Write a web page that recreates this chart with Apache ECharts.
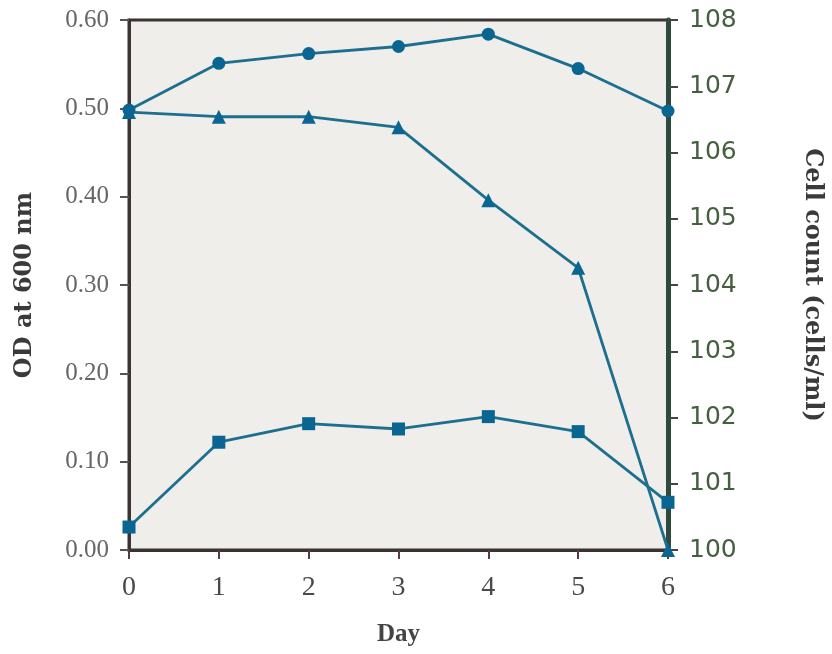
<!DOCTYPE html>
<html>
<head>
<meta charset="utf-8">
<script src="https://cdn.jsdelivr.net/npm/echarts@6/dist/echarts.min.js"></script>
<style>
  html, body { margin:0; padding:0; background:#fff; }
  #main { width:832px; height:654px; }
</style>
</head>
<body>
<div id="main"></div>
<script>
  // 数据
  var days = [0, 1, 2, 3, 4, 5, 6];
  var odCircle = [0.498, 0.551, 0.562, 0.570, 0.584, 0.545, 0.497];
  var odSquare = [0.026, 0.122, 0.143, 0.137, 0.151, 0.134, 0.054];
  var cellLog = [6.61, 6.54, 6.54, 6.38, 5.28, 4.26, 0.0];   // log10 cells/ml
  var leftTicks = ['0.00', '0.10', '0.20', '0.30', '0.40', '0.50', '0.60'];

  function pairs(vals) {
    return days.map(function (d, i) { return [d, vals[i]]; });
  }

  var lineColor = '#1c6f8f';
  var markColor = '#0b6591';
  var serif = '"Liberation Serif", "DejaVu Serif", serif';
  var titleFont = '"DejaVu Serif", serif';

  var chart = echarts.init(document.getElementById('main'));
  var option = {
    animation: false,
    grid: {
      left: 129, right: 164, top: 20, bottom: 104,
      containLabel: false,
      outerBoundsMode: 'none',
      show: true,
      backgroundColor: '#efeeea',
      borderColor: '#3b3333',
      borderWidth: 3
    },
    xAxis: {
      type: 'value',
      min: 0, max: 6, interval: 1,
      name: 'Day',
      nameLocation: 'middle',
      nameGap: 72,
      nameTextStyle: { fontFamily: serif, fontWeight: 'bold', fontSize: 25, color: '#444' },
      axisLine: { show: true, lineStyle: { color: '#3b3333', width: 3 } },
      axisTick: { show: true, length: 9, lineStyle: { color: '#5a3b45', width: 2 } },
      axisLabel: { fontFamily: serif, fontSize: 28, color: '#4a4a4a', margin: 24 },
      splitLine: { show: false }
    },
    yAxis: [{
      type: 'value',
      min: 0, max: 0.6, interval: 0.1,
      position: 'left',
      name: 'OD at 600 nm',
      nameLocation: 'middle',
      nameRotate: 90,
      nameGap: 92,
      nameTextStyle: { fontFamily: titleFont, fontWeight: 'bold', fontSize: 24, color: '#3a3a3a' },
      axisLine: { show: true, lineStyle: { color: '#3b3333', width: 3 } },
      axisTick: { show: true, length: 9, lineStyle: { color: '#555', width: 2 } },
      axisLabel: {
        fontFamily: serif, fontSize: 25, color: '#666', margin: 20,
        formatter: function (v) { return leftTicks[Math.round(v * 10)]; }
      },
      splitLine: { show: false }
    }, {
      type: 'value',
      min: 0, max: 8, interval: 1,
      position: 'right',
      name: 'Cell count (cells/ml)',
      nameLocation: 'middle',
      nameRotate: -90,
      nameGap: 132,
      nameTextStyle: { fontFamily: titleFont, fontWeight: 'bold', fontSize: 24, color: '#3a3a3a' },
      axisLine: { show: true, lineStyle: { color: '#2f4a3c', width: 5 } },
      axisTick: { show: true, length: 10, lineStyle: { color: '#444', width: 2 } },
      axisLabel: {
        fontFamily: '"DejaVu Sans", sans-serif', fontSize: 25, color: '#44603f', margin: 21,
        formatter: function (v) { return '10' + v; }
      },
      splitLine: { show: false }
    }],
    series: [{
      type: 'line',
      yAxisIndex: 0,
      data: pairs(odCircle),
      symbol: 'circle',
      symbolSize: 13,
      lineStyle: { color: lineColor, width: 2.8 },
      itemStyle: { color: markColor }
    }, {
      type: 'line',
      yAxisIndex: 1,
      data: pairs(cellLog),
      symbol: 'triangle',
      symbolSize: 14,
      lineStyle: { color: lineColor, width: 2.8 },
      itemStyle: { color: markColor }
    }, {
      type: 'line',
      yAxisIndex: 0,
      data: pairs(odSquare),
      symbol: 'rect',
      symbolSize: 13,
      lineStyle: { color: lineColor, width: 2.8 },
      itemStyle: { color: markColor }
    }]
  };
  chart.setOption(option);
</script>
</body>
</html>
